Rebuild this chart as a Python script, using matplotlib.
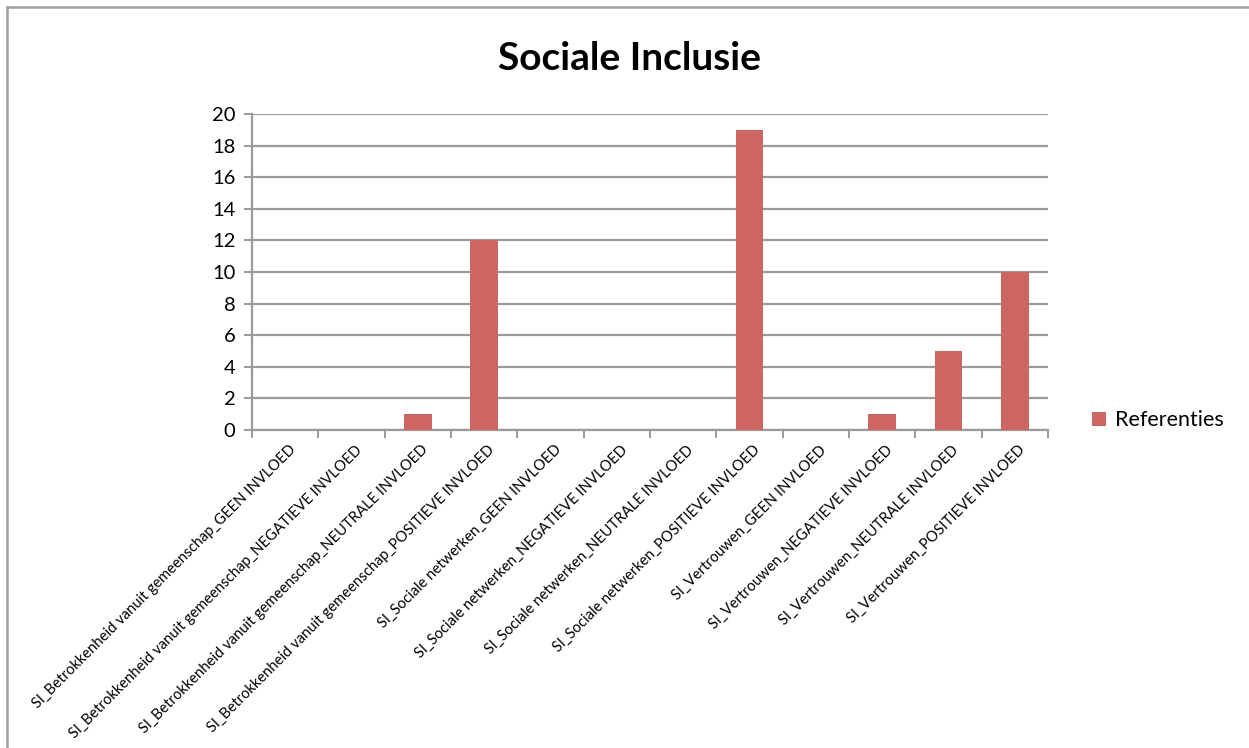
import matplotlib
matplotlib.use("Agg")
import matplotlib.pyplot as plt
from matplotlib.lines import Line2D
from matplotlib.patches import Patch

plt.rcParams['font.family'] = ['Lato', 'DejaVu Sans']

categories = [
    "SI_Betrokkenheid vanuit gemeenschap_GEEN INVLOED",
    "SI_Betrokkenheid vanuit gemeenschap_NEGATIEVE INVLOED",
    "SI_Betrokkenheid vanuit gemeenschap_NEUTRALE INVLOED",
    "SI_Betrokkenheid vanuit gemeenschap_POSITIEVE INVLOED",
    "SI_Sociale netwerken_GEEN INVLOED",
    "SI_Sociale netwerken_NEGATIEVE INVLOED",
    "SI_Sociale netwerken_NEUTRALE INVLOED",
    "SI_Sociale netwerken_POSITIEVE INVLOED",
    "SI_Vertrouwen_GEEN INVLOED",
    "SI_Vertrouwen_NEGATIEVE INVLOED",
    "SI_Vertrouwen_NEUTRALE INVLOED",
    "SI_Vertrouwen_POSITIEVE INVLOED",
]
referenties = [0, 0, 1, 12, 0, 0, 0, 19, 0, 1, 5, 10]
yticks = [0, 2, 4, 6, 8, 10, 12, 14, 16, 18, 20]
series_name = "Referenties"
title = "Sociale Inclusie"

bar_color = "#CD6660"
grid_color = "#9A9A9A"

W, H = 1249, 748
fig = plt.figure(figsize=(W / 100, H / 100), dpi=100)
# outer chart border (top and left only visible)
fig.add_artist(Line2D([7 / W, 1.0], [1 - 7 / H, 1 - 7 / H], transform=fig.transFigure,
                      color="#A0A0A0", linewidth=1.8))
fig.add_artist(Line2D([7 / W, 7 / W], [0.0, 1 - 7 / H], transform=fig.transFigure,
                      color="#A0A0A0", linewidth=1.8))

ax = fig.add_axes([0.2018, 0.4251, 0.8390 - 0.2018, 0.8476 - 0.4251])
x = list(range(len(categories)))
ax.bar(x, referenties, width=0.42, color=bar_color, zorder=3)

ax.set_xlim(-0.5, len(categories) - 0.5)
ax.set_ylim(0, 20)
ax.set_yticks(yticks)
ax.set_yticklabels([str(v) for v in yticks], fontsize=14.5)
ax.yaxis.grid(True, color=grid_color, linewidth=1.6, zorder=0)
ax.set_axisbelow(True)

for s in ["top", "right"]:
    ax.spines[s].set_visible(False)
for s in ["left", "bottom"]:
    ax.spines[s].set_color(grid_color)
    ax.spines[s].set_linewidth(1.6)

ax.set_xticks([i - 0.5 for i in range(len(categories) + 1)])
ax.set_xticklabels([])
ax.tick_params(axis='x', length=6, color=grid_color, width=1.4)
ax.tick_params(axis='y', length=6, color=grid_color, width=1.4, pad=6)

for i, lab in enumerate(categories):
    ax.text(i + 0.05, -0.8, lab, rotation=45, ha='right', va='top',
            rotation_mode='anchor', fontsize=10.6, color='black')

fig.text(0.504, 0.922, title, ha='center', va='center', fontsize=28, fontweight='bold')

handle = Patch(facecolor=bar_color, edgecolor='none')
fig.legend([handle], [series_name], loc='center left', bbox_to_anchor=(0.859, 0.438),
           frameon=False, fontsize=15.5, handlelength=0.65, handleheight=0.65, handletextpad=0.4)

fig.savefig("out.png", dpi=100, facecolor="white")
